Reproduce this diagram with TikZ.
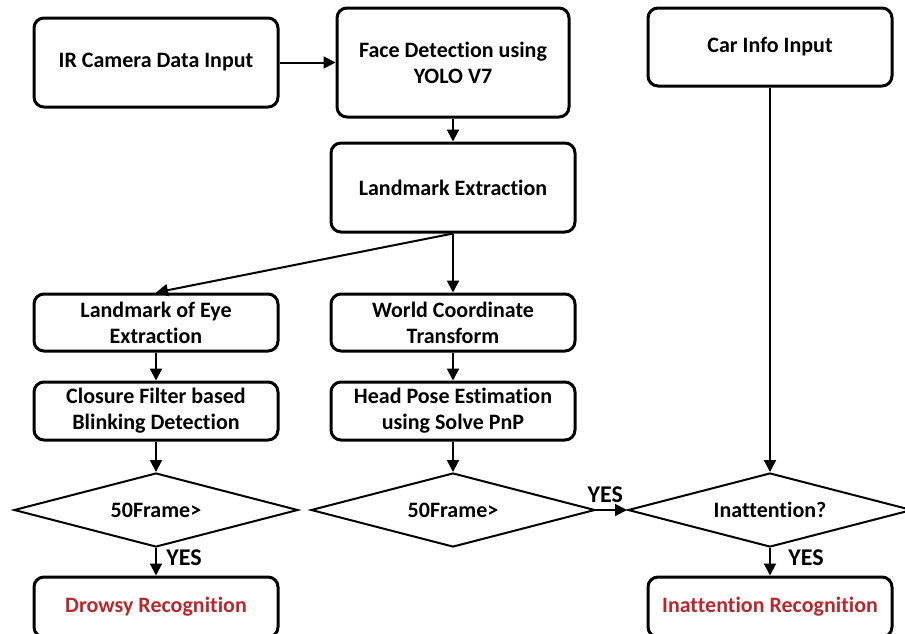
\documentclass[tikz,border=0pt]{standalone}
\usepackage{fontspec}
\setmainfont[Ligatures=CommonOff]{Carlito}
\usetikzlibrary{arrows.meta,shapes.geometric}
\definecolor{redtxt}{RGB}{185,40,45}
\begin{document}
\begin{tikzpicture}[x=1pt,y=-1pt,
  box/.style={draw,line width=3pt,rounded corners=10pt,minimum width=244pt,align=center,inner sep=0pt,
    font=\fontsize{22}{26}\selectfont\bfseries},
  dia/.style={draw,line width=2pt,shape=diamond,aspect=3.84,minimum width=284pt,minimum height=74pt,inner sep=0pt,
    font=\fontsize{22}{26}\selectfont\bfseries},
  arr/.style={line width=2pt,-{Triangle[length=12pt,width=12pt]}},
  yes/.style={font=\fontsize{24}{26}\selectfont\bfseries}]
\useasboundingbox (0,0) rectangle (905,633);
\clip (0,0) rectangle (905,633);
\fill[white] (0,0) rectangle (905,633);
\node[box,minimum height=89pt] (ir) at (156,62.5) {IR Camera Data Input};
\node[box,minimum width=232pt,minimum height=109pt] (face) at (453,62.5) {Face Detection using\\YOLO V7};
\node[box,minimum height=89pt] (lm) at (453,187.5) {Landmark Extraction};
\node[box,minimum height=78pt] (car) at (770,47) {Car Info Input};
\node[box,minimum height=57pt] (eye) at (156,322.5) {Landmark of Eye\\Extraction};
\node[box,minimum height=57pt] (world) at (453,322.5) {World Coordinate\\Transform};
\node[box,minimum height=58pt] (clos) at (156,411) {Closure Filter based\\Blinking Detection};
\node[box,minimum height=58pt] (head) at (453,411) {Head Pose Estimation\\using Solve PnP};
\node[dia] (d1) at (156,510) {50Frame>};
\node[dia] (d2) at (453,510) {50Frame>};
\node[dia] (d3) at (770,510) {Inattention?};
\node[box,minimum height=60pt,text=redtxt] (drow) at (156,607) {Drowsy Recognition};
\node[box,minimum height=60pt,text=redtxt] (inat) at (770,607) {Inattention Recognition};
\draw[arr] (ir) -- (face);
\draw[arr] (face) -- (lm);
\draw[arr] (lm.south) -- (eye.north);
\draw[arr] (lm.south) -- (world.north);
\draw[arr] (eye) -- (clos);
\draw[arr] (world) -- (head);
\draw[arr] (clos) -- (d1);
\draw[arr] (head) -- (d2);
\draw[arr] (d1) -- node[yes,pos=0.35,right=6pt] (y1) {YES} (drow);
\draw[arr] (d2) -- node[yes,pos=0.3,above=3pt] (y2) {YES} (d3);
\draw[arr] (car) -- (d3);
\draw[arr] (d3) -- node[yes,pos=0.35,right=14pt] (y3) {YES} (inat);
\end{tikzpicture}
\end{document}
